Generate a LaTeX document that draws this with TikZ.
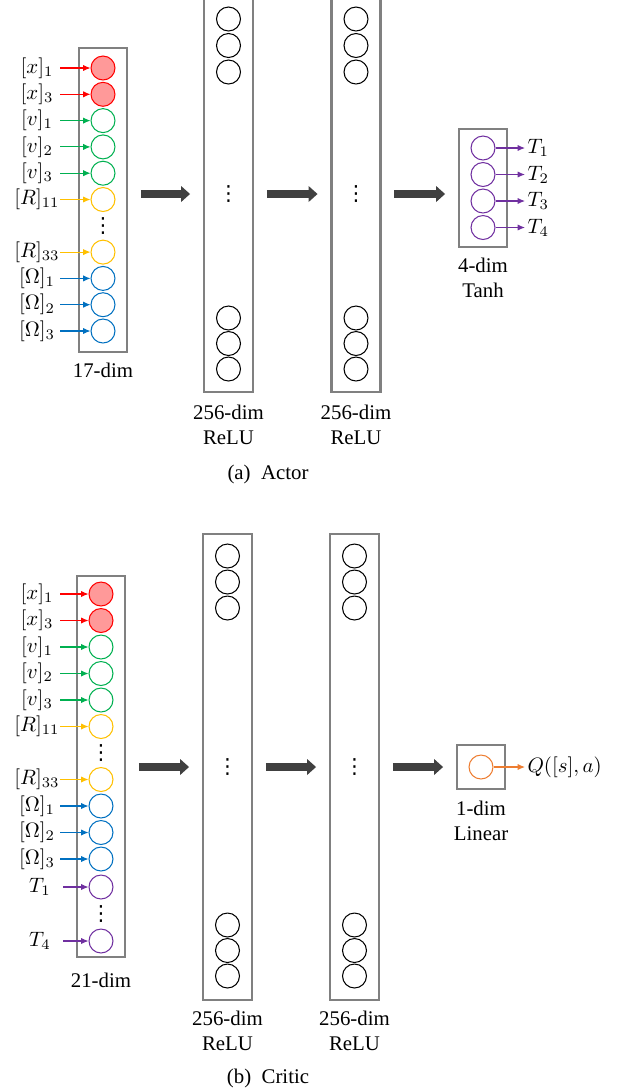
\documentclass[tikz,border=0pt]{standalone}
\usepackage{fontspec}
\setmainfont{Liberation Serif}
\newfontfamily\dotsfont{DejaVu Sans}
\usepackage{amsmath,amssymb}
\usetikzlibrary{arrows.meta}
\newcommand{\unitdots}{{\dotsfont\fontsize{10pt}{10pt}\selectfont ⋮}}

\begin{document}
\begin{tikzpicture}[x=0.48pt,y=-0.48pt,
  layer/.style={draw=boxgray,line width=1pt,inner sep=0pt,minimum width=23pt},
  unit/.style={circle,draw,line width=0.5pt,minimum size=11.5pt,inner sep=0pt},
  lab/.style={inner sep=0pt,minimum width=22pt},
  feed/.style={-{Latex[length=3.5pt,width=3pt]},line width=0.5pt},
  bigarrow/.style={draw=arrowgray,line width=4.3pt,-{Triangle[length=4.3pt,width=7.4pt]},shorten <=6.2pt,shorten >=6.2pt},
  skip/.style={inner sep=0pt},
  dimtext/.style={align=center,inner sep=0pt}]
% Define colours of the state groups
\definecolor{boxgray}{RGB}{128,128,128}
\definecolor{arrowgray}{RGB}{64,64,64}
\definecolor{xred}{RGB}{255,0,0}
\definecolor{xfill}{RGB}{255,153,153}
\definecolor{vgreen}{RGB}{0,176,80}
\definecolor{ryellow}{RGB}{255,192,0}
\definecolor{wblue}{RGB}{0,112,192}
\definecolor{tpurple}{RGB}{112,48,160}
\definecolor{qorange}{RGB}{237,125,49}
\useasboundingbox (0,0) rectangle (637,1092);

% ---------------- (a) Actor ----------------
% Draw layers
\node[layer,minimum height=146pt] (ain) at (103,200) {};
\node[layer,minimum width=23.5pt,minimum height=190pt] (ah1) at (228.5,194) {};
\node[layer,minimum width=23.5pt,minimum height=190pt] (ah2) at (356,194) {};
\node[layer,minimum height=56.6pt] (aout) at (483,188) {};

% Input units
\node[lab] (alx1) at (37,68) {$[x]_1$};
\node[unit,draw=xred,fill=xfill] (aux1) at (103,68) {};
\draw[feed,xred] (alx1) -- (aux1);
\node[lab] (alx3) at (37,94.3) {$[x]_3$};
\node[unit,draw=xred,fill=xfill] (aux3) at (103,94.3) {};
\draw[feed,xred] (alx3) -- (aux3);
\node[lab] (alv1) at (37,120.6) {$[v]_1$};
\node[unit,draw=vgreen] (auv1) at (103,120.6) {};
\draw[feed,vgreen] (alv1) -- (auv1);
\node[lab] (alv2) at (37,146.9) {$[v]_2$};
\node[unit,draw=vgreen] (auv2) at (103,146.9) {};
\draw[feed,vgreen] (alv2) -- (auv2);
\node[lab] (alv3) at (37,173.2) {$[v]_3$};
\node[unit,draw=vgreen] (auv3) at (103,173.2) {};
\draw[feed,vgreen] (alv3) -- (auv3);
\node[lab] (alr11) at (37,199.5) {$[R]_{11}$};
\node[unit,draw=ryellow] (aur11) at (103,199.5) {};
\draw[feed,ryellow] (alr11) -- (aur11);
\node[skip] (adots) at (103,225.8) {\unitdots};
\node[lab] (alr33) at (37,252.1) {$[R]_{33}$};
\node[unit,draw=ryellow] (aur33) at (103,252.1) {};
\draw[feed,ryellow] (alr33) -- (aur33);
\node[lab] (alw1) at (37,278.4) {$[\Omega]_1$};
\node[unit,draw=wblue] (auw1) at (103,278.4) {};
\draw[feed,wblue] (alw1) -- (auw1);
\node[lab] (alw2) at (37,304.7) {$[\Omega]_2$};
\node[unit,draw=wblue] (auw2) at (103,304.7) {};
\draw[feed,wblue] (alw2) -- (auw2);
\node[lab] (alw3) at (37,331) {$[\Omega]_3$};
\node[unit,draw=wblue] (auw3) at (103,331) {};
\draw[feed,wblue] (alw3) -- (auw3);
\node[dimtext] (ainlab) at (103,370) {17-dim};

% Hidden units
\foreach \y in {19,45.5,72,318,343.5,369} {
  \node[unit] at (228.5,\y) {};
  \node[unit] at (356,\y) {};
}
\node[skip] (ah1dots) at (228.5,194) {\unitdots};
\node[skip] (ah2dots) at (356,194) {\unitdots};
\node[dimtext] (ah1lab) at (228.5,424.5) {256-dim\\ReLU};
\node[dimtext] (ah2lab) at (356,424.5) {256-dim\\ReLU};

% Output units
\node[unit,draw=tpurple] (aut1) at (483,148) {};
\node[unit,draw=tpurple] (aut2) at (483,174.5) {};
\node[unit,draw=tpurple] (aut3) at (483,201) {};
\node[unit,draw=tpurple] (aut4) at (483,227.5) {};
\node[anchor=west,inner sep=1pt] (alt1) at (525,148) {$T_1$};
\node[anchor=west,inner sep=1pt] (alt2) at (525,174.5) {$T_2$};
\node[anchor=west,inner sep=1pt] (alt3) at (525,201) {$T_3$};
\node[anchor=west,inner sep=1pt] (alt4) at (525,227.5) {$T_4$};
\draw[feed,tpurple] (aut1) -- (alt1);
\draw[feed,tpurple] (aut2) -- (alt2);
\draw[feed,tpurple] (aut3) -- (alt3);
\draw[feed,tpurple] (aut4) -- (alt4);
\node[dimtext] (aoutlab) at (483,277.5) {4-dim\\Tanh};

% Draw thick arrows
\draw[bigarrow] (ain.east |- ah1.west) -- (ah1.west);
\draw[bigarrow] (ah1.east) -- (ah2.west);
\draw[bigarrow] (ah2.east) -- (aout.west |- ah2.east);
\node (acap) at (268,474) {(a)\enspace Actor};

% ---------------- (b) Critic ----------------
% Draw layers
\node[layer,minimum height=182.9pt] (cin) at (101,766.5) {};
\node[layer,minimum width=23.5pt,minimum height=223.7pt] (ch1) at (227.5,767) {};
\node[layer,minimum width=23.5pt,minimum height=223.7pt] (ch2) at (354.5,767) {};
\node[layer,minimum height=21.1pt] (cout) at (481,767) {};

% Input units
\node[lab] (clx1) at (37,594) {$[x]_1$};
\node[unit,draw=xred,fill=xfill] (cux1) at (101,594) {};
\draw[feed,xred] (clx1) -- (cux1);
\node[lab] (clx3) at (37,620.5) {$[x]_3$};
\node[unit,draw=xred,fill=xfill] (cux3) at (101,620.5) {};
\draw[feed,xred] (clx3) -- (cux3);
\node[lab] (clv1) at (37,647) {$[v]_1$};
\node[unit,draw=vgreen] (cuv1) at (101,647) {};
\draw[feed,vgreen] (clv1) -- (cuv1);
\node[lab] (clv2) at (37,673.5) {$[v]_2$};
\node[unit,draw=vgreen] (cuv2) at (101,673.5) {};
\draw[feed,vgreen] (clv2) -- (cuv2);
\node[lab] (clv3) at (37,700) {$[v]_3$};
\node[unit,draw=vgreen] (cuv3) at (101,700) {};
\draw[feed,vgreen] (clv3) -- (cuv3);
\node[lab] (clr11) at (37,726.5) {$[R]_{11}$};
\node[unit,draw=ryellow] (cur11) at (101,726.5) {};
\draw[feed,ryellow] (clr11) -- (cur11);
\node[skip] (cdots1) at (101,753) {\unitdots};
\node[lab] (clr33) at (37,779.5) {$[R]_{33}$};
\node[unit,draw=ryellow] (cur33) at (101,779.5) {};
\draw[feed,ryellow] (clr33) -- (cur33);
\node[lab] (clw1) at (37,806) {$[\Omega]_1$};
\node[unit,draw=wblue] (cuw1) at (101,806) {};
\draw[feed,wblue] (clw1) -- (cuw1);
\node[lab] (clw2) at (37,832.5) {$[\Omega]_2$};
\node[unit,draw=wblue] (cuw2) at (101,832.5) {};
\draw[feed,wblue] (clw2) -- (cuw2);
\node[lab] (clw3) at (37,859) {$[\Omega]_3$};
\node[unit,draw=wblue] (cuw3) at (101,859) {};
\draw[feed,wblue] (clw3) -- (cuw3);
\node[lab] (clt1) at (40,887) {$T_1$};
\node[unit,draw=tpurple] (cut1) at (101,887) {};
\draw[feed,tpurple] (clt1) -- (cut1);
\node[skip] (cdots2) at (101,914) {\unitdots};
\node[lab] (clt4) at (40,941) {$T_4$};
\node[unit,draw=tpurple] (cut4) at (101,941) {};
\draw[feed,tpurple] (clt4) -- (cut4);
\node[dimtext] (cinlab) at (101,980) {21-dim};

% Hidden units
\foreach \y in {556,582,608,925,950.5,976} {
  \node[unit] at (227.5,\y) {};
  \node[unit] at (354.5,\y) {};
}
\node[skip] (ch1dots) at (227.5,767) {\unitdots};
\node[skip] (ch2dots) at (354.5,767) {\unitdots};
\node[dimtext] (ch1lab) at (227.5,1030.5) {256-dim\\ReLU};
\node[dimtext] (ch2lab) at (354.5,1030.5) {256-dim\\ReLU};

% Output unit
\node[unit,draw=qorange] (cuq) at (481,767) {};
\node[anchor=west,inner sep=1pt] (clq) at (525,767) {$Q([s],a)$};
\draw[feed,qorange] (cuq) -- (clq);
\node[dimtext] (coutlab) at (481,820.5) {1-dim\\Linear};

% Draw thick arrows
\draw[bigarrow] (cin.east |- ch1.west) -- (ch1.west);
\draw[bigarrow] (ch1.east) -- (ch2.west);
\draw[bigarrow] (ch2.east) -- (cout.west);
\node (ccap) at (268,1078) {(b)\enspace Critic};
\end{tikzpicture}
\end{document}
